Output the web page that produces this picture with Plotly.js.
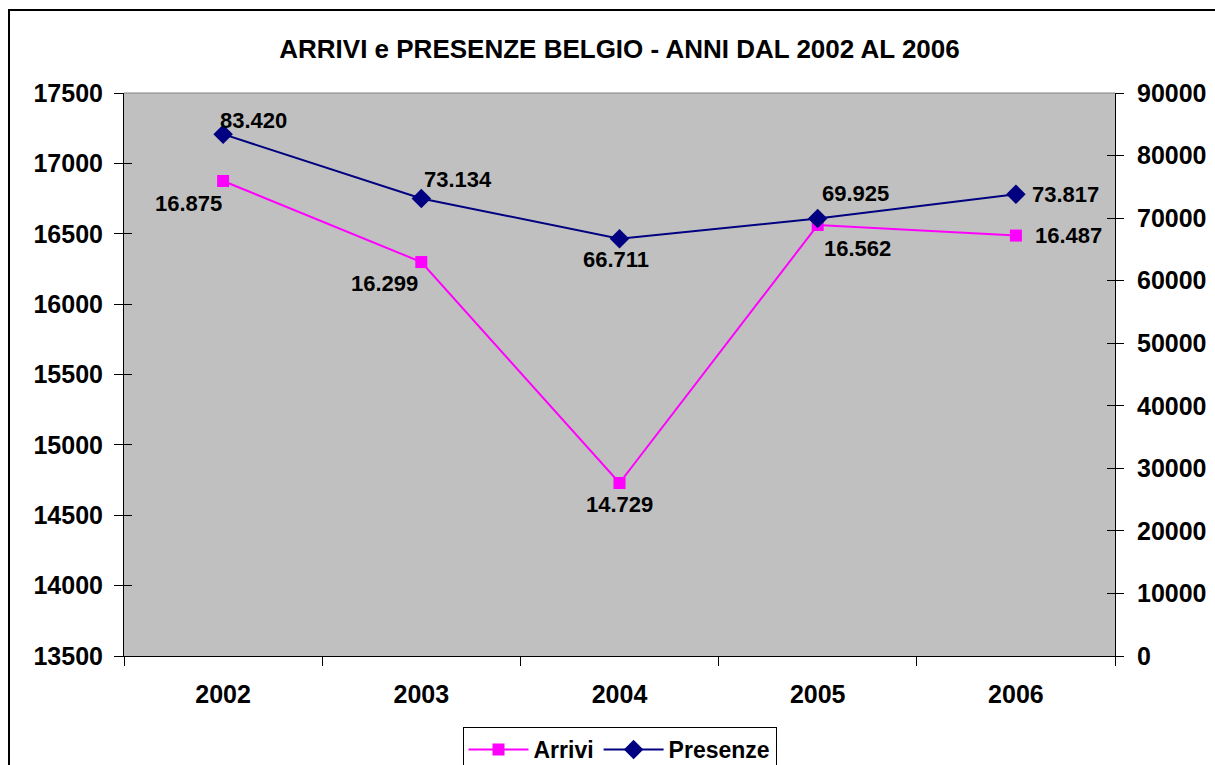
<!DOCTYPE html>
<html>
<head>
<meta charset="utf-8">
<script src="https://cdn.plot.ly/plotly-3.0.1.min.js"></script>
<style>html,body{margin:0;padding:0;background:#fff;}#chart{width:1215px;height:765px;}</style>
</head>
<body>
<div id="chart"></div>
<script>
const years = ['2002', '2003', '2004', '2005', '2006'];
const arrivi = [16875, 16299, 14729, 16562, 16487];
const presenze = [83420, 73134, 66711, 69925, 73817];
const chartTitle = 'ARRIVI e PRESENZE BELGIO - ANNI DAL 2002 AL 2006';

// label offsets (pixels) for the data labels
const arriviShift = [[-35, -23], [-37, -21], [0, -21], [40, -23], [53, 0]];
const presenzeShift = [[30, 14], [37, 19], [-4, -21], [38, 25], [50, 0]];

const fmt = v => String(v).replace(/\B(?=(\d{3})+(?!\d))/g, '.');
const FONT = 'Liberation Sans, Arial, sans-serif';

const traces = [
  {
    x: years, y: arrivi, name: 'Arrivi', type: 'scatter', mode: 'lines+markers',
    yaxis: 'y',
    line: {color: '#FF00FF', width: 2},
    marker: {symbol: 'square', size: 12, color: '#FF00FF'}
  },
  {
    x: years, y: presenze, name: 'Presenze', type: 'scatter', mode: 'lines+markers',
    yaxis: 'y2',
    line: {color: '#000080', width: 2},
    marker: {symbol: 'diamond', size: 15, color: '#000080'}
  }
];

const annotations = [];
years.forEach((yr, i) => {
  annotations.push({
    x: i, y: arrivi[i], xref: 'x', yref: 'y', text: fmt(arrivi[i]), showarrow: false,
    xshift: arriviShift[i][0], yshift: arriviShift[i][1],
    font: {family: FONT, size: 22, color: '#000', weight: 'bold'}
  });
  annotations.push({
    x: i, y: presenze[i], xref: 'x', yref: 'y2', text: fmt(presenze[i]), showarrow: false,
    xshift: presenzeShift[i][0], yshift: presenzeShift[i][1],
    font: {family: FONT, size: 22, color: '#000', weight: 'bold'}
  });
});

const tickFont = {family: FONT, size: 25, color: '#000', weight: 'bold'};

const layout = {
  width: 1215, height: 765,
  margin: {l: 124, r: 100, t: 93, b: 109, autoexpand: false},
  paper_bgcolor: '#FFFFFF',
  plot_bgcolor: '#C0C0C0',
  font: {family: FONT, color: '#000'},
  title: {
    text: chartTitle,
    font: {family: FONT, size: 26, color: '#000', weight: 'bold'},
    xref: 'paper', x: 0.5, xanchor: 'center',
    yref: 'container', y: 1 - 49 / 765, yanchor: 'middle'
  },
  showlegend: true,
  legend: {
    orientation: 'h', x: 0.5, xanchor: 'center', y: -0.126, yanchor: 'top',
    bgcolor: '#FFFFFF', bordercolor: '#000', borderwidth: 1,
    itemwidth: 60,
    font: {family: FONT, size: 23, color: '#000', weight: 'bold'}
  },
  xaxis: {
    type: 'category', range: [-0.5, 4.5], tickson: 'boundaries',
    ticks: 'outside', ticklen: 9, tickcolor: '#000', tickwidth: 1,
    showline: true, linecolor: '#000', linewidth: 1,
    showgrid: false, zeroline: false, tickfont: tickFont,
    ticklabelstandoff: 16, fixedrange: true
  },
  yaxis: {
    range: [13500, 17500], dtick: 500, tick0: 13500, tickformat: 'd',
    ticks: 'outside', ticklen: 9, tickcolor: '#000', tickwidth: 1,
    showline: true, linecolor: '#000', linewidth: 1,
    showgrid: false, zeroline: false, tickfont: tickFont,
    ticklabelstandoff: 6, fixedrange: true
  },
  yaxis2: {
    overlaying: 'y', side: 'right',
    range: [0, 90000], dtick: 10000, tick0: 0, tickformat: 'd',
    ticks: 'outside', ticklen: 8, tickcolor: '#000', tickwidth: 1,
    showline: true, linecolor: '#000', linewidth: 1,
    showgrid: false, zeroline: false, tickfont: tickFont,
    ticklabelstandoff: 8, fixedrange: true
  },
  yaxis3: {
    overlaying: 'y', side: 'left', range: [13500, 17500], dtick: 500, tick0: 13500,
    ticks: 'inside', ticklen: 8, tickcolor: '#000', tickwidth: 1,
    showticklabels: false, showline: false, showgrid: false, zeroline: false, fixedrange: true
  },
  yaxis4: {
    overlaying: 'y', side: 'right', range: [0, 90000], dtick: 10000, tick0: 0,
    ticks: 'inside', ticklen: 8, tickcolor: '#000', tickwidth: 1,
    showticklabels: false, showline: false, showgrid: false, zeroline: false, fixedrange: true
  },
  shapes: [
    {type: 'line', xref: 'paper', yref: 'paper', x0: 0, x1: 1, y0: 1, y1: 1,
     line: {color: '#808080', width: 1}},
    {type: 'rect', xref: 'paper', yref: 'paper',
     x0: (9 - 124) / 991, x1: 1.12, y0: (656 - 10) / 563, y1: -0.25,
     line: {color: '#000', width: 2}, fillcolor: 'rgba(0,0,0,0)', layer: 'above'}
  ],
  annotations: annotations
};

// dummy traces so the inside-tick axes are rendered
traces.push({x: [years[0]], y: [null], yaxis: 'y3', showlegend: false, hoverinfo: 'skip', type: 'scatter', mode: 'lines'});
traces.push({x: [years[0]], y: [null], yaxis: 'y4', showlegend: false, hoverinfo: 'skip', type: 'scatter', mode: 'lines'});

Plotly.newPlot('chart', traces, layout, {displayModeBar: false});
</script>
</body>
</html>
